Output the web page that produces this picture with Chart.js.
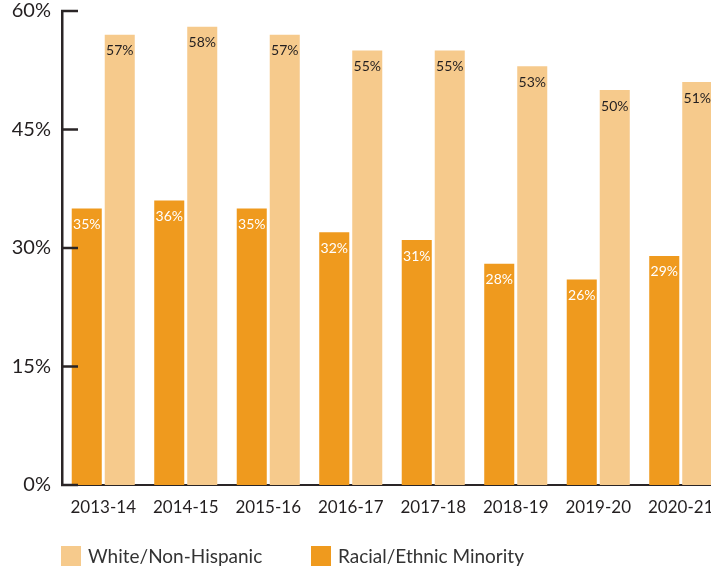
<!DOCTYPE html>
<html>
<head>
<meta charset="utf-8">
<script src="https://cdn.jsdelivr.net/npm/chart.js@4"></script>
<style>
  html, body { margin: 0; padding: 0; background: #fff; }
  #wrap { position: relative; width: 711px; height: 571px; overflow: hidden; }
  #box { position: absolute; left: 0; top: 0; width: 722px; height: 571px; }
  .legend { position: absolute; top: 546px; font-family: Lato, sans-serif; font-size: 19px; color: #333; line-height: 20px; }
  .legend span.sw { display: inline-block; width: 20px; height: 20px; vertical-align: top; margin-right: 7px; }
</style>
</head>
<body>
<div id="wrap">
  <div id="box"><canvas id="chart"></canvas></div>
  <div class="legend" style="left:61px"><span class="sw" style="background:#F6CA8C"></span>White/Non-Hispanic</div>
  <div class="legend" style="left:311px"><span class="sw" style="background:#EF9A1E"></span>Racial/Ethnic Minority</div>
</div>
<script>
// Chart data
var years = ['2013-14', '2014-15', '2015-16', '2016-17', '2017-18', '2018-19', '2019-20', '2020-21'];
var minorityValues = [35, 36, 35, 32, 31, 28, 26, 29];
var whiteValues = [57, 58, 57, 55, 55, 53, 50, 51];
var yTicks = [0, 15, 30, 45, 60];

var orange = '#EF9A1E';
var lightOrange = '#F6CA8C';
var axisColor = '#2a2526';

// Short tick marks pointing into the plot area
var innerTicks = {
    id: 'innerTicks',
    afterDraw: function (chart) {
        var ctx = chart.ctx;
        var y = chart.scales.y;
        var left = chart.chartArea.left;
        ctx.save();
        ctx.strokeStyle = axisColor;
        ctx.lineWidth = 2.5;
        yTicks.forEach(function (t) {
            var py = y.getPixelForValue(t);
            ctx.beginPath();
            ctx.moveTo(left - 1, py);
            ctx.lineTo(left + 16, py);
            ctx.stroke();
        });
        ctx.restore();
    }
};

// Value labels inside the top of each bar
var barLabels = {
    id: 'barLabels',
    afterDatasetsDraw: function (chart) {
        var ctx = chart.ctx;
        ctx.save();
        ctx.font = '14px Lato, sans-serif';
        ctx.textAlign = 'center';
        ctx.textBaseline = 'middle';
        chart.data.datasets.forEach(function (ds, i) {
            var meta = chart.getDatasetMeta(i);
            ctx.fillStyle = i === 0 ? '#ffffff' : '#231F20';
            meta.data.forEach(function (bar, j) {
                ctx.fillText(ds.data[j] + '%', bar.x, bar.y + 16);
            });
        });
        ctx.restore();
    }
};

new Chart(document.getElementById('chart').getContext('2d'), {
    type: 'bar',
    data: {
        labels: years,
        datasets: [{
            label: 'Racial/Ethnic Minority',
            data: minorityValues,
            backgroundColor: orange
        }, {
            label: 'White/Non-Hispanic',
            data: whiteValues,
            backgroundColor: lightOrange
        }]
    },
    options: {
        responsive: true,
        maintainAspectRatio: false,
        animation: false,
        layout: { padding: { top: 11, right: 0, left: 0, bottom: 0 } },
        categoryPercentage: 0.8,
        barPercentage: 0.91,
        plugins: {
            legend: { display: false },
            tooltip: { enabled: false }
        },
        scales: {
            x: {
                grid: { display: false, drawTicks: false },
                border: { display: true, color: axisColor, width: 2 },
                ticks: {
                    color: '#231F20',
                    padding: 12,
                    font: { family: 'Lato, sans-serif', size: 17 }
                },
                afterFit: function (s) { s.height = 86; s.paddingLeft = 0; s.paddingRight = 0; }
            },
            y: {
                min: 0,
                max: 60,
                grid: { display: false, drawTicks: false },
                border: { display: true, color: axisColor, width: 2.5 },
                ticks: {
                    stepSize: 15,
                    color: '#231F20',
                    padding: 11,
                    font: { family: 'Lato, sans-serif', size: 20 },
                    callback: function (v) { return v + '%'; }
                },
                afterFit: function (s) { s.width = 62; s.paddingTop = 0; s.paddingBottom = 0; }
            }
        }
    },
    plugins: [innerTicks, barLabels]
});
</script>
</body>
</html>
